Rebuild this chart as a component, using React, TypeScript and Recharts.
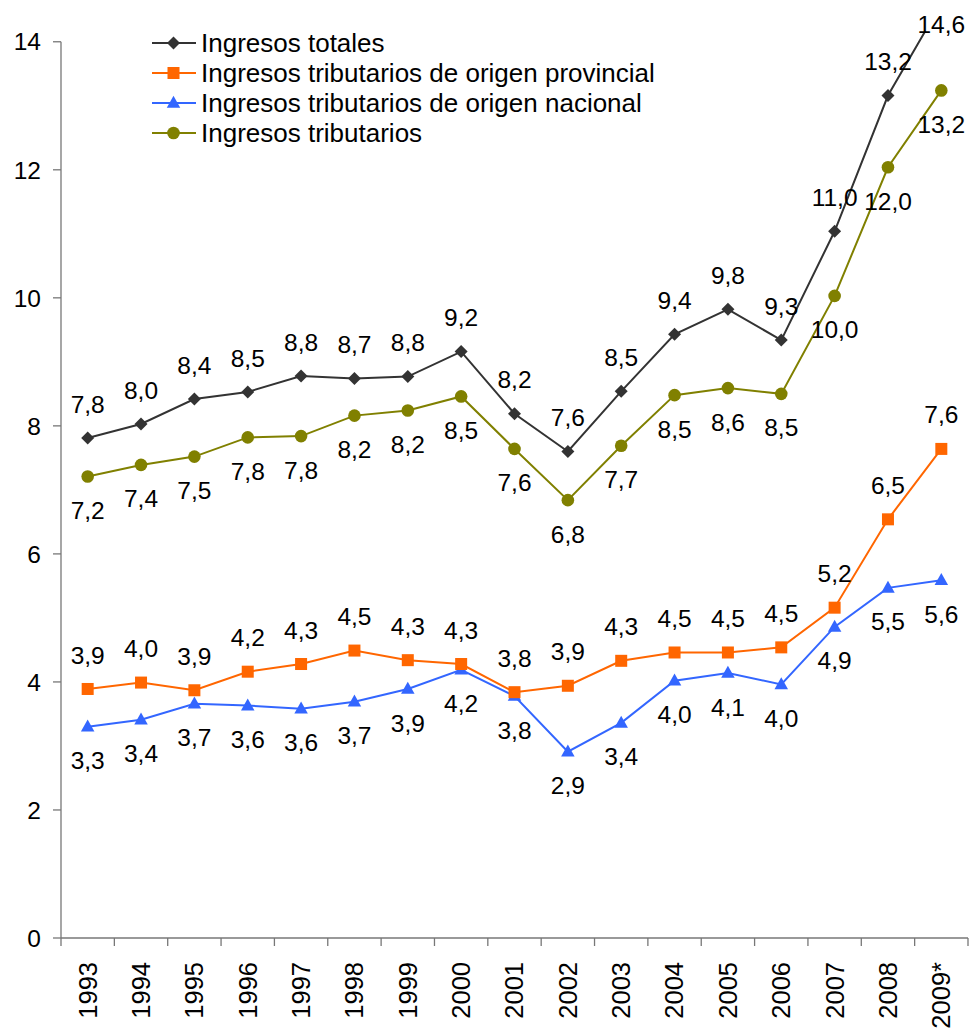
import React from 'react';
import { LineChart, Line, XAxis, YAxis, ReferenceLine, Legend } from 'recharts';

const years = ['1993', '1994', '1995', '1996', '1997', '1998', '1999', '2000', '2001', '2002', '2003', '2004', '2005', '2006', '2007', '2008', '2009*'];
const ingresosTotales = [7.81, 8.03, 8.42, 8.53, 8.78, 8.74, 8.77, 9.16, 8.19, 7.6, 8.54, 9.43, 9.82, 9.34, 11.04, 13.16, 14.6];
const tribProvincial = [3.89, 3.99, 3.87, 4.16, 4.28, 4.49, 4.34, 4.28, 3.84, 3.94, 4.33, 4.46, 4.46, 4.54, 5.16, 6.54, 7.64];
const tribNacional = [3.3, 3.41, 3.66, 3.63, 3.58, 3.69, 3.89, 4.19, 3.78, 2.91, 3.36, 4.02, 4.14, 3.96, 4.86, 5.47, 5.59];
const tributarios = [7.21, 7.39, 7.52, 7.82, 7.84, 8.16, 8.24, 8.46, 7.64, 6.84, 7.69, 8.48, 8.59, 8.5, 10.03, 12.04, 13.24];
const yTicks = [0, 2, 4, 6, 8, 10, 12, 14];

const seriesNames = [
  'Ingresos totales',
  'Ingresos tributarios de origen provincial',
  'Ingresos tributarios de origen nacional',
  'Ingresos tributarios',
];

const data = years.map((year, i) => ({
  year,
  totales: ingresosTotales[i],
  provincial: tribProvincial[i],
  nacional: tribNacional[i],
  tributarios: tributarios[i],
}));

const W = 970;
const H = 1028;
const MARGIN = { top: 33, right: 2, bottom: 0, left: 0 };
const Y_AXIS_W = 61;
const X_AXIS_H = 90;
const Y_TOP = 14.137;
const BAND = (W - MARGIN.left - MARGIN.right - Y_AXIS_W) / years.length;
const FONT = '"Liberation Sans", Arial, sans-serif';
const AXIS = '#777777';
const X_TICK_SIZE = 8;
const X_TICK_MARGIN = 16;

const C_TOT = '#333333';
const C_PROV = '#FF6600';
const C_NAC = '#3366FF';
const C_TRIB = '#808000';

const fmt = (v: number) => v.toFixed(1).replace('.', ',');

type Shape = 'diamond' | 'square' | 'triangle' | 'circle';

const Marker = ({ cx, cy, shape, color }: { cx: number; cy: number; shape: Shape; color: string }) => {
  if (cx == null || cy == null || isNaN(cx) || isNaN(cy)) return null;
  if (shape === 'diamond') {
    const r = 6.5;
    return <path d={`M${cx},${cy - r}L${cx + r},${cy}L${cx},${cy + r}L${cx - r},${cy}Z`} fill={color} />;
  }
  if (shape === 'square') {
    const r = 6;
    return <rect x={cx - r} y={cy - r} width={2 * r} height={2 * r} fill={color} />;
  }
  if (shape === 'triangle') {
    const h = 12;
    const w = 13.5;
    return <path d={`M${cx},${cy - h * 0.6}L${cx + w / 2},${cy + h * 0.4}L${cx - w / 2},${cy + h * 0.4}Z`} fill={color} />;
  }
  return <circle cx={cx} cy={cy} r={6.3} fill={color} />;
};

const makeDot = (shape: Shape, color: string) => (props: any) => (
  <Marker key={`dot-${shape}-${props.index}`} cx={props.cx} cy={props.cy} shape={shape} color={color} />
);

const makeLabel = (dir: number, name: string) => (props: any) => {
  const { x, y, value, index } = props;
  if (x == null || y == null) return null;
  let cy = y + dir * 34;
  if (cy < 24) cy = 24;
  return (
    <text
      key={`lbl-${name}-${index}`}
      x={x}
      y={cy}
      dy="0.35em"
      textAnchor="middle"
      fontSize={24.5}
      fontFamily={FONT}
      fill="#000"
    >
      {fmt(Number(value))}
    </text>
  );
};

const XTick = (props: any) => {
  const { x, y, payload } = props;
  const axisY = y - X_TICK_SIZE - X_TICK_MARGIN;
  const hb = BAND / 2;
  const isLast = payload.value === years[years.length - 1];
  return (
    <g>
      <line x1={x - hb} x2={x - hb} y1={axisY} y2={axisY + X_TICK_SIZE} stroke={AXIS} strokeWidth={1.3} />
      {isLast && <line x1={x + hb} x2={x + hb} y1={axisY} y2={axisY + X_TICK_SIZE} stroke={AXIS} strokeWidth={1.3} />}
      <text
        transform={`translate(${x},${y}) rotate(-90)`}
        textAnchor="end"
        dy="0.35em"
        fontSize={25.5}
        fontFamily={FONT}
        fill="#000"
      >
        {payload.value}
      </text>
    </g>
  );
};

const legendItems: { name: string; color: string; shape: Shape }[] = [
  { name: seriesNames[0], color: C_TOT, shape: 'diamond' },
  { name: seriesNames[1], color: C_PROV, shape: 'square' },
  { name: seriesNames[2], color: C_NAC, shape: 'triangle' },
  { name: seriesNames[3], color: C_TRIB, shape: 'circle' },
];

const LegendContent = () => (
  <div style={{ fontFamily: FONT }}>
    {legendItems.map((it) => (
      <div key={it.name} style={{ display: 'flex', alignItems: 'center', height: 30 }}>
        <svg width={46} height={30} style={{ display: 'block' }}>
          <line x1={1} x2={45} y1={15} y2={15} stroke={it.color} strokeWidth={2} />
          <Marker cx={22.5} cy={15} shape={it.shape} color={it.color} />
        </svg>
        <span style={{ marginLeft: 4, fontSize: 26, color: '#000', whiteSpace: 'nowrap', lineHeight: '30px' }}>{it.name}</span>
      </div>
    ))}
  </div>
);

export default function App() {
  return (
    <div style={{ position: 'absolute', left: 0, top: 0, width: W, height: H, background: '#fff' }}>
      <LineChart width={W} height={H} data={data} margin={MARGIN}>
        <XAxis
          dataKey="year"
          scale="band"
          interval={0}
          height={X_AXIS_H}
          tickLine={false}
          tickSize={X_TICK_SIZE}
          tickMargin={X_TICK_MARGIN}
          axisLine={{ stroke: AXIS, strokeWidth: 1.3 }}
          tick={<XTick />}
        />
        <YAxis
          type="number"
          domain={[0, Y_TOP]}
          allowDataOverflow
          ticks={yTicks}
          interval={0}
          width={Y_AXIS_W}
          axisLine={false}
          tickLine={{ stroke: AXIS, strokeWidth: 1.3 }}
          tickSize={8}
          tickMargin={12}
          tick={{ fontSize: 24.5, fill: '#000', fontFamily: FONT }}
        />
        <ReferenceLine
          segment={[{ x: years[0], y: 0 }, { x: years[0], y: 14 }]}
          position="start"
          stroke={AXIS}
          strokeWidth={1.3}
        />
        <Legend
          layout="vertical"
          align="center"
          verticalAlign="middle"
          wrapperStyle={{ top: 28, left: 151, width: 600, height: 120 }}
          content={() => <LegendContent />}
        />
        <Line
          dataKey="tributarios"
          name={seriesNames[3]}
          stroke={C_TRIB}
          strokeWidth={2}
          dot={makeDot('circle', C_TRIB)}
          activeDot={false}
          label={makeLabel(1, 'trib')}
          isAnimationActive={false}
        />
        <Line
          dataKey="nacional"
          name={seriesNames[2]}
          stroke={C_NAC}
          strokeWidth={2}
          dot={makeDot('triangle', C_NAC)}
          activeDot={false}
          label={makeLabel(1, 'nac')}
          isAnimationActive={false}
        />
        <Line
          dataKey="provincial"
          name={seriesNames[1]}
          stroke={C_PROV}
          strokeWidth={2}
          dot={makeDot('square', C_PROV)}
          activeDot={false}
          label={makeLabel(-1, 'prov')}
          isAnimationActive={false}
        />
        <Line
          dataKey="totales"
          name={seriesNames[0]}
          stroke={C_TOT}
          strokeWidth={2}
          dot={makeDot('diamond', C_TOT)}
          activeDot={false}
          label={makeLabel(-1, 'tot')}
          isAnimationActive={false}
        />
      </LineChart>
    </div>
  );
}
